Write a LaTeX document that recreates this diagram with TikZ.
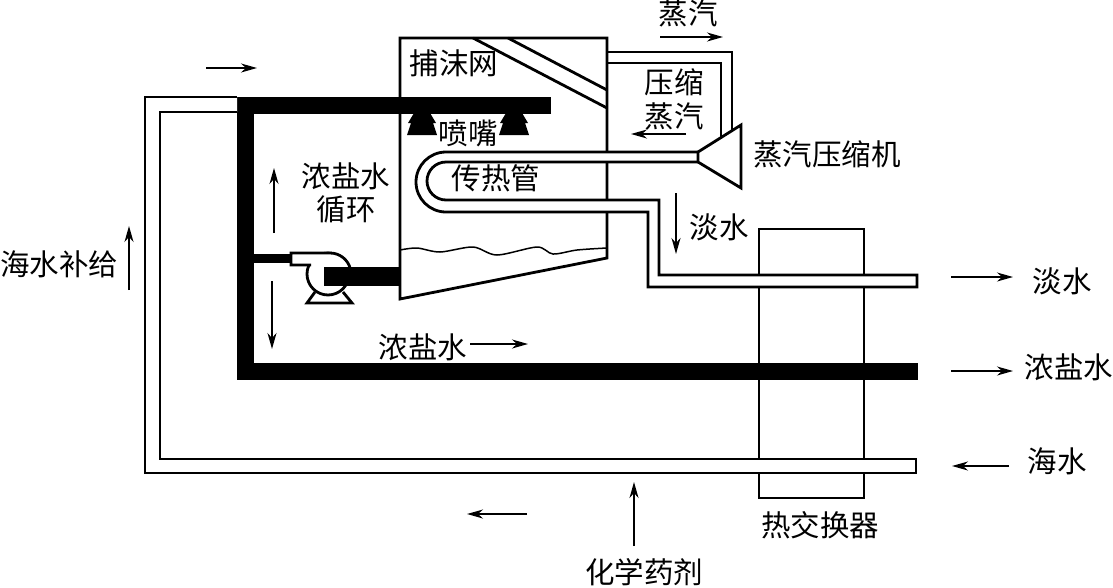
\documentclass[tikz,border=0pt]{standalone}
\usepackage{fontspec}
\setmainfont{Noto Sans CJK SC}
\usetikzlibrary{arrows.meta,positioning}
\newcommand{\mysize}{\fontsize{29.5}{33}\selectfont}
\tikzset{
    pipesty/.style={draw,fill=white,line width=2.8pt,line join=miter},
    linesty/.style={draw,line width=2.8pt},
    brinesty/.style={draw,line width=17pt,line join=miter},
    jetsty/.style={fill=black,draw=none},
    flowsty/.style={draw,line width=1.5pt,-{Stealth[length=16pt,width=9pt,inset=5pt]}},
    namesty/.style={inner sep=0pt,font=\mysize},
}
\begin{document}
\begin{tikzpicture}[x=1pt,y=-1pt]
  \useasboundingbox (0,0) rectangle (1113,587);

  % heat exchanger
  \draw[linesty] (759,229) rectangle (864,498);

  % evaporator
  \draw[linesty] (400,38) -- (607,38) -- (607,258) -- (400,299) -- cycle;
  \draw[linesty] (473,38) -- (607,108);
  \draw[linesty] (508,38) -- (607,90);
  \draw[line width=1.5pt] plot[smooth] coordinates {(400,250) (417,248) (440,252) (473,247) (497,255) (537,247) (553,254) (577,250) (607,248)};

  % steam line
  \draw[linesty] (607,52) -- (732,52) -- (732,135);
  \draw[linesty] (607,63) -- (721,63) -- (721,140);

  % transfer tube
  \path[pipesty] (698,152) -- (446,152) arc[start angle=90,end angle=270,radius=30pt]
    -- (648,212) -- (648,287) -- (917,287) -- (917,275) -- (659,275) -- (659,200) -- (446,200)
    arc[start angle=270,end angle=90,radius=19pt] -- (698,162);

  % compressor
  \path[pipesty] (698,152) -- (741,125) -- (741,188) -- (698,162) -- cycle;

  % brine loop
  \draw[brinesty] (551,105.5) -- (245.5,105.5) -- (245.5,371.5) -- (918,371.5);
  \draw[brinesty,line width=9pt] (254,258.5) -- (291,258.5);

  % sea water
  \path[pipesty] (237,97) -- (145,97) -- (145,473) -- (916,473) -- (916,459) -- (160,459) -- (160,112) -- (237,112);

  % nozzles
  \foreach \jx in {422,514}{
    \fill[jetsty] (\jx-8,113) -- (\jx+8,113) -- (\jx+14,123) -- (\jx+11,123) -- (\jx+15,135) -- (\jx-15,135) -- (\jx-11,123) -- (\jx-14,123) -- cycle;
  }

  % pump
  \draw[linesty] (315,292) -- (307,303) -- (352,303) -- (343,292);
  \draw[linesty,fill=white] (328,274) circle (21pt);
  \path[pipesty] (311,265) -- (291,265) -- (291,253) -- (330,253) arc[start angle=90,end angle=15,radius=21pt];
  \draw[brinesty,line width=19pt] (324,276.5) -- (400,276.5);

  % flow arrows
  \draw[flowsty] (206,68) -- (257,68);
  \draw[flowsty] (660,37) -- (723,37);
  \draw[flowsty] (686,134) -- (631,134);
  \draw[flowsty] (676,193) -- (676,254);
  \draw[flowsty] (274,233) -- (274,168);
  \draw[flowsty] (272,281) -- (272,349);
  \draw[flowsty] (470,344) -- (528,344);
  \draw[flowsty] (951,277) -- (1013,277);
  \draw[flowsty] (951,371) -- (1013,371);
  \draw[flowsty] (1009,466) -- (952,466);
  \draw[flowsty] (634,546) -- (634,482);
  \draw[flowsty] (527,514) -- (467,514);
  \draw[flowsty] (129,290) -- (129,226);

  % labels
  \node[namesty] (steam) at (688,13) {蒸汽};
  \node[namesty] (mesh) at (454,63) {捕沫网};
  \node[namesty] (comp1) at (674,82) {压缩};
  \node[namesty] (comp2) at (674,116) {蒸汽};
  \node[namesty] (nozzle) at (468,133) {喷嘴};
  \node[namesty] (tube) at (496,178) {传热管};
  \node[namesty] (compressor) at (827,154) {蒸汽压缩机};
  \node[namesty] (fresh1) at (719,227) {淡水};
  \node[namesty] (circ1) at (346,176) {浓盐水};
  \node[namesty] (circ2) at (346,209) {循环};
  \node[namesty] (makeup) at (59,264) {海水补给};
  \node[namesty] (brine1) at (423,347) {浓盐水};
  \node[namesty] (fresh2) at (1062,281) {淡水};
  \node[namesty] (brine2) at (1069,367) {浓盐水};
  \node[namesty] (sea) at (1057,461) {海水};
  \node[namesty] (hx) at (820,525) {热交换器};
  \node[namesty] (chem) at (644,572) {化学药剂};
\end{tikzpicture}
\end{document}
